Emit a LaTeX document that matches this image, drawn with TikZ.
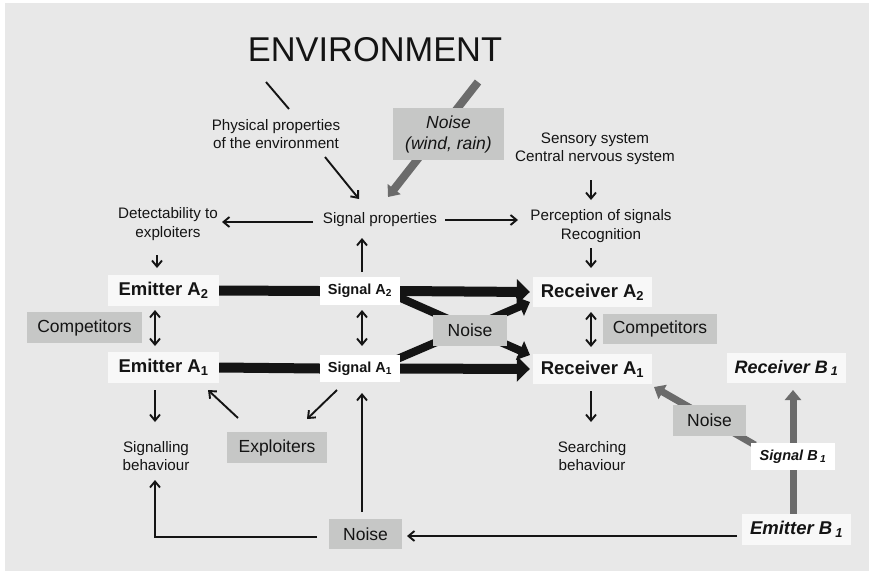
\documentclass[tikz,border=0pt]{standalone}
\usepackage{fontspec}
\setmainfont{Liberation Sans}
\usetikzlibrary{arrows.meta,positioning,calc}
\tikzset{>={Straight Barb[length=6pt,width=10pt]}}
\definecolor{bggray}{HTML}{E8E8E8}
\definecolor{boxgray}{HTML}{C6C7C6}
\definecolor{noisegray}{HTML}{6B6B6B}
\definecolor{offwhite}{HTML}{F8F8F8}
\definecolor{ink}{HTML}{141414}
\newcommand\fsz[2]{\fontsize{#1}{#2}\selectfont}
\pgfdeclarelayer{back}
\pgfdeclarelayer{behind}
\pgfsetlayers{back,behind,main}
\tikzset{
  txt/.style={inner sep=0pt, align=center, text=ink, font=\fsz{15.2}{18.5}},
  graybox/.style={fill=boxgray, inner sep=0pt, align=center, text=ink, font=\fsz{17.5}{21}},
  partbox/.style={fill=offwhite, inner sep=0pt, text=ink, font=\bfseries\fsz{18.5}{22}},
  sigbox/.style={fill=white, inner sep=0pt, text=ink, font=\bfseries\fsz{14.5}{17}},
  arr/.style={->, ink, line width=1.9pt},
  dblarr/.style={<->, ink, line width=1.9pt},
  fatbar/.style={ink, line width=10pt},
  fatarr/.style={ink, line width=10pt, -{Triangle[length=13pt,width=25pt]}},
  crossarr/.style={ink, line width=8pt, -{Triangle[length=11pt,width=20pt]}},
  grayarr/.style={color=noisegray, -{Triangle[length=10pt,width=16pt]}},
}

\begin{document}
\begin{tikzpicture}[x=1pt, y=-1pt]
                \useasboundingbox (0,0) rectangle (869,573);
                \begin{pgfonlayer}{back}
                \fill[bggray] (5,3) rectangle (869,571);
                \end{pgfonlayer}

                % Environment and the properties above the signal
                \node[inner sep=0pt, text=ink, font=\fsz{34.4}{40}] (env) at (375,50) {ENVIRONMENT};
                \node[txt] (phys) at (276,134) {Physical properties\\of the environment};
                \node[graybox, minimum width=111pt, minimum height=52pt, font=\itshape\fsz{17.5}{21}]
                (noisewr) at (448.5,134) {Noise\\(wind, rain)};
                \node[txt] (sigprop) at (380,220) {Signal properties};
                \node[txt] (detect) at (168,224) {Detectability to\\exploiters};
                \node[txt] (sensory) at (595,149) {Sensory system\\Central nervous system};
                \node[txt] (percep) at (601,226) {Perception of signals\\Recognition};

                % Emitters, signals and receivers of species A
                \node[partbox, minimum width=111pt, minimum height=31pt] (emA2) at (163.5,290.5) {Emitter A\textsubscript{2}};
                \node[sigbox, minimum width=80pt, minimum height=28pt] (sigA2) at (360,291) {Signal A\textsubscript{2}};
                \node[partbox, minimum width=119pt, minimum height=30pt] (recA2) at (592.5,292) {Receiver A\textsubscript{2}};
                \node[graybox, minimum width=115pt, minimum height=31pt] (compL) at (84.5,327.5) {Competitors};
                \node[graybox, minimum width=74pt, minimum height=31pt] (noiseM) at (470,330.5) {Noise};
                \node[graybox, minimum width=114pt, minimum height=30pt] (compR) at (660,329) {Competitors};
                \node[partbox, minimum width=111pt, minimum height=31pt] (emA1) at (163.5,367.5) {Emitter A\textsubscript{1}};
                \node[sigbox, minimum width=80pt, minimum height=27pt] (sigA1) at (360,368.5) {Signal A\textsubscript{1}};
                \node[partbox, minimum width=119pt, minimum height=30pt] (recA1) at (592.5,369) {Receiver A\textsubscript{1}};

                % Species B and the lower row
                \node[partbox, font=\bfseries\itshape\fsz{18}{22}, minimum width=119pt, minimum height=30pt]
                (recB1) at (786.5,368) {Receiver B\,\textsubscript{1}};
                \node[graybox, minimum width=73pt, minimum height=31pt] (noiseR) at (709.5,420.5) {Noise};
                \node[graybox, minimum width=100pt, minimum height=31pt] (expl) at (277,447.5) {Exploiters};
                \node[txt] (sigbeh) at (156,456) {Signalling\\behaviour};
                \node[txt] (searchbeh) at (592,456) {Searching\\behaviour};
                \node[sigbox, font=\bfseries\itshape\fsz{14.5}{17}, minimum width=84pt, minimum height=27pt]
                (sigB1) at (793,456.5) {Signal B\,\textsubscript{1}};
                \node[graybox, minimum width=73pt, minimum height=30pt] (noiseB) at (365.5,534) {Noise};
                \node[partbox, font=\bfseries\itshape\fsz{18.5}{22}, minimum width=109pt, minimum height=31pt]
                (emB1) at (796.5,529.5) {Emitter B\,\textsubscript{1}};

                % Thin arrows
                \draw[ink, line width=1.9pt] ($(env)+(-109,32)$) -- ($(env)+(-86,59)$);
                \draw[arr] ($(phys)+(49,23)$) -- ($(sigprop)+(-21,-21)$);
                \draw[arr] ($(sigprop)+(-67,2)$) -- ($(detect)+(54,-2)$);
                \draw[arr] ($(sigprop)+(65,0)$) -- ($(percep)+(-83,-6)$);
                \draw[arr] ($(detect)+(-11,31)$) -- ($(emA2)+(-6.5,-22.5)$);
                \draw[arr] ($(sensory)+(-4,31)$) -- ($(percep)+(-10,-26)$);
                \draw[arr] ($(percep)+(-10,22)$) -- ($(recA2)+(-1.5,-24)$);
                \draw[arr] ($(sigA2)+(2,-19)$) -- ($(sigprop)+(-18,18)$);
                \draw[dblarr] ($(emA2)+(-8.5,19.5)$) -- ($(emA1)+(-8.5,-21.5)$);
                \draw[dblarr] ($(sigA2)+(2,19)$) -- ($(sigA1)+(2,-22.5)$);
                \draw[dblarr] ($(recA2)+(-1.5,20)$) -- ($(recA1)+(-1.5,-22)$);
                \draw[arr] ($(emA1)+(-8.5,22.5)$) -- ($(sigbeh)+(-1,-34)$);
                \draw[arr] ($(expl)+(-39,-29.5)$) -- ($(emA1)+(44.5,22.5)$);
                \draw[arr] ($(sigA1)+(-23,21.5)$) -- ($(expl)+(30,-28.5)$);
                \draw[arr] ($(recA1)+(-1.5,22)$) -- ($(searchbeh)+(-1,-34)$);
                \draw[arr] ($(noiseB)+(-3.5,-22)$) -- ($(sigA1)+(2,24.5)$);
                \draw[arr] ($(noiseB)+(-48.5,3)$) -| ($(sigbeh)+(-1,24)$);
                \draw[arr] ($(emB1)+(-59.5,6.5)$) -- ($(noiseB)+(41.5,2)$);

                % Signal paths, behind the boxes
                \begin{pgfonlayer}{behind}
                \draw[fatbar] (emA2.east) -- (sigA2.west);
                \draw[fatbar] (emA1.east) -- (sigA1.west);
                \draw[fatarr] (sigA2.east) -- ($(recA2.west)+(-3,0)$);
                \draw[fatarr] (sigA1.east) -- ($(recA1.west)+(-3,0)$);
                \draw[crossarr] ($(sigA2)+(36,5)$) -- ($(recA1)+(-62.5,-14)$);
                \draw[crossarr] ($(sigA1)+(36,-9)$) -- ($(recA2)+(-62.5,10)$);
                \draw[grayarr, line width=8pt] ($(noisewr)+(29.5,-52)$) -- ($(sigprop)+(8,-23)$);
                \draw[grayarr, line width=7pt] ($(emB1)+(-3.5,-15.5)$) -- ($(recB1)+(6.5,22)$);
                \draw[grayarr, line width=7pt] ($(sigB1)+(-38,-11.5)$) -- ($(recA1)+(61.5,18)$);
                \end{pgfonlayer}
\end{tikzpicture}
\end{document}
